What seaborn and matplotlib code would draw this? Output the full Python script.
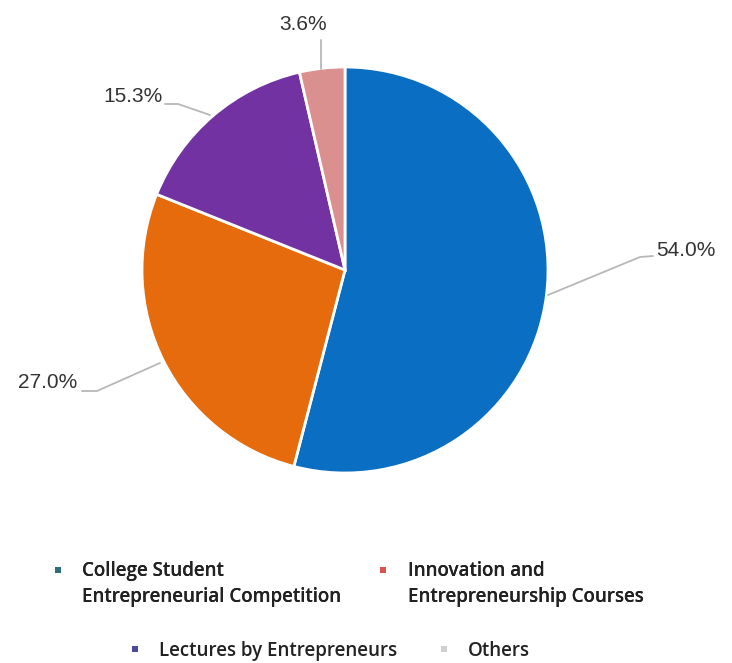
import matplotlib
matplotlib.use("Agg")
import matplotlib.pyplot as plt
import seaborn as sns
from matplotlib.lines import Line2D
from matplotlib.path import Path

sns.set_theme(style="white")
plt.rcParams['font.family'] = ['Liberation Sans', 'DejaVu Sans']

categories = ["College Student\nEntrepreneurial Competition",
              "Innovation and\nEntrepreneurship Courses",
              "Lectures by Entrepreneurs",
              "Others"]
values = [54.0, 27.0, 15.3, 3.6]
labels = ["54.0%", "27.0%", "15.3%", "3.6%"]
slice_colors = ["#0a6ec2", "#e56b0c", "#7232a1", "#d9908f"]
legend_colors = ["#2d6f78", "#d9534f", "#4b4a9c", "#cfcfcf"]

W, H = 732, 663
fig = plt.figure(figsize=(W / 100, H / 100), dpi=100)
cx, cy, R = 345, 270, 203
ax = fig.add_axes([(cx - R) / W, (H - cy - R) / H, 2 * R / W, 2 * R / H])

wedges, _ = ax.pie(values, colors=slice_colors, startangle=90, counterclock=False,
                   radius=1, wedgeprops=dict(edgecolor="white", linewidth=2))
ax.set_xlim(-1, 1)
ax.set_ylim(-1, 1)
ax.axis("off")

def px(x, y):
    return ((x - cx) / R, (cy - y) / R)

# label line paths (pixel coords): wedge edge -> elbow -> end, text anchor
ann = [
    ((548, 295), (640, 257), (653, 256), (656, 250), "left"),
    ((160, 363), (97, 391), (82, 391), (77, 382), "right"),
    ((210, 115), (178, 104), (165, 104), (163, 97), "right"),
    ((321, 69), (321, 40), (321, 40), (303, 24), "center"),
]
for (p0, p1, p2, pt, ha), lab in zip(ann, labels):
    xs, ys = zip(*[px(*p) for p in (p0, p1, p2)])
    ax.plot(xs, ys, color="#b8b8b8", lw=1.3, clip_on=False)
    tx, ty = px(*pt)
    ax.text(tx, ty, lab, ha=ha, va="center", fontsize=15, color="#333333",
            clip_on=False)

# square marker raised to sit beside the first line of a two-line label
d = 5.0
raised_sq = Path([(-1, d - 1), (1, d - 1), (1, d + 1), (-1, d + 1), (-1, d - 1)],
                 [Path.MOVETO, Path.LINETO, Path.LINETO, Path.LINETO, Path.CLOSEPOLY])
ms_raised = 4.3 * (d + 1)

handles = []
for i, c in enumerate(legend_colors):
    if i < 2:
        handles.append(Line2D([], [], marker=raised_sq, linestyle="none",
                              markersize=ms_raised, markerfacecolor=c,
                              markeredgewidth=0))
    else:
        handles.append(Line2D([], [], marker="s", linestyle="none", markersize=4.3,
                              markerfacecolor=c, markeredgewidth=0))

leg_font = dict(family=["Open Sans", "DejaVu Sans"], size=13.5, weight="semibold")
leg1 = fig.legend(handles[:2], categories[:2], loc="center left",
                  bbox_to_anchor=(50 / W, 1 - 584 / H), ncol=2, frameon=False,
                  prop=leg_font, handlelength=0.8, handletextpad=0.9,
                  columnspacing=1.85, labelcolor="#222222", borderaxespad=0,
                  borderpad=0)
for t in leg1.get_texts():
    t.set_linespacing(1.35)
leg2 = fig.legend(handles[2:], categories[2:], loc="center left",
                  bbox_to_anchor=(127 / W, 1 - 651 / H), ncol=2, frameon=False,
                  prop=leg_font, handlelength=0.8, handletextpad=0.9,
                  columnspacing=2.1, labelcolor="#222222", borderaxespad=0,
                  borderpad=0)
fig.add_artist(leg1)

fig.savefig("out.png", dpi=100, facecolor="white")
